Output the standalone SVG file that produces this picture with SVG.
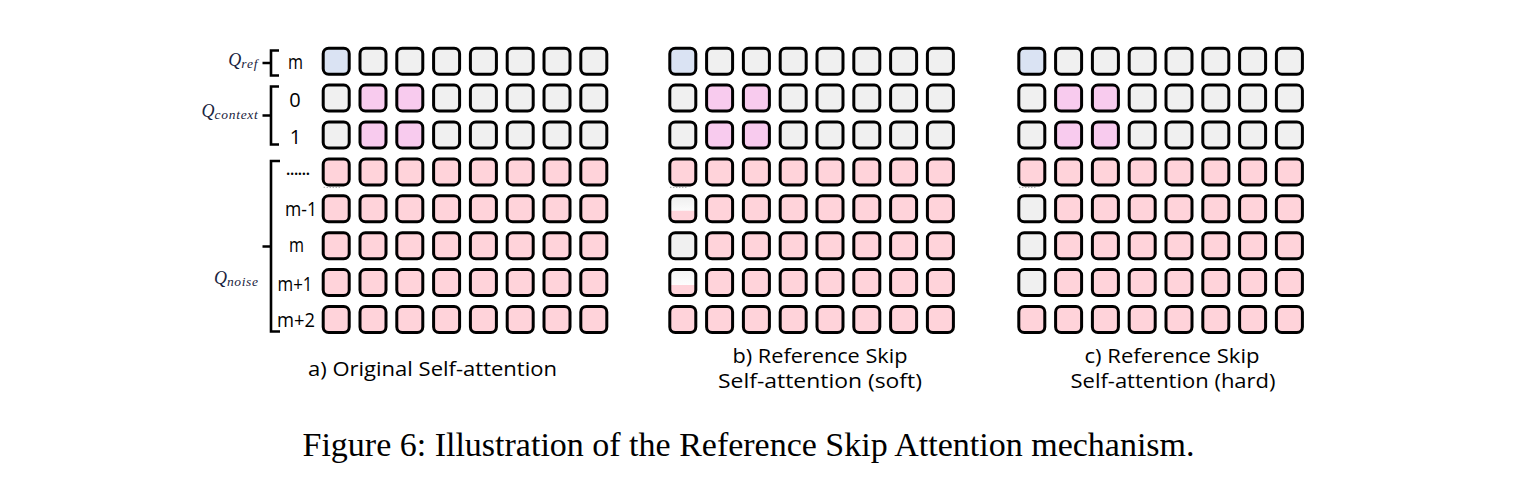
<svg xmlns="http://www.w3.org/2000/svg" xmlns:xlink="http://www.w3.org/1999/xlink" width="1526" height="494" viewBox="0 0 1526 494">
  <defs>
    <style>
      .bl{fill:#dae3f3}
      .gr{fill:#f0f0f0}
      .vi{fill:#f8cbee}
      .pk{fill:#ffd3da}
      .sa{fill:url(#softA)}
      .sb{fill:url(#softB)}
      .br{fill:none;stroke:#000;stroke-width:2.6;stroke-linecap:butt;stroke-linejoin:miter}
      .dots{fill:none;stroke:#777;stroke-width:1;stroke-dasharray:1 2}
      .lab{font-family:"Open Sans","Lato","DejaVu Sans",sans-serif;font-size:20px;font-weight:500;fill:#000}
      .cap{font-family:"Open Sans","Lato","DejaVu Sans",sans-serif;font-size:20px;font-weight:500;fill:#000}
      .q{font-family:"Liberation Serif","DejaVu Serif",serif;font-style:italic;fill:#1a2440}
      .fig{font-family:"Liberation Serif","Times New Roman",serif;font-size:34px;fill:#000}
    </style>
    <linearGradient id="softA" x1="0" y1="0" x2="0" y2="1">
      <stop offset="0" stop-color="#eeeeee"/>
      <stop offset="0.56" stop-color="#fbfbfb"/>
      <stop offset="0.58" stop-color="#ffd3da"/>
      <stop offset="1" stop-color="#ffd3da"/>
    </linearGradient>
    <linearGradient id="softB" x1="0" y1="0" x2="0" y2="1">
      <stop offset="0" stop-color="#f3f3f3"/>
      <stop offset="0.58" stop-color="#fdfdfd"/>
      <stop offset="0.6" stop-color="#ffd3da"/>
      <stop offset="1" stop-color="#ffd3da"/>
    </linearGradient>
    <rect id="cell" width="26" height="26" rx="5.5" ry="5.5" stroke="#000" stroke-width="3"/>
    <g id="shared">
      <!-- row m (ref) -->
      <use xlink:href="#cell" x="1.5" y="1.5" class="bl"/>
      <use xlink:href="#cell" x="38.3" y="1.5" class="gr"/>
      <use xlink:href="#cell" x="75.1" y="1.5" class="gr"/>
      <use xlink:href="#cell" x="111.9" y="1.5" class="gr"/>
      <use xlink:href="#cell" x="148.7" y="1.5" class="gr"/>
      <use xlink:href="#cell" x="185.5" y="1.5" class="gr"/>
      <use xlink:href="#cell" x="222.3" y="1.5" class="gr"/>
      <use xlink:href="#cell" x="259.1" y="1.5" class="gr"/>
      <!-- row 0 -->
      <use xlink:href="#cell" x="1.5" y="38.4" class="gr"/>
      <use xlink:href="#cell" x="38.3" y="38.4" class="vi"/>
      <use xlink:href="#cell" x="75.1" y="38.4" class="vi"/>
      <use xlink:href="#cell" x="111.9" y="38.4" class="gr"/>
      <use xlink:href="#cell" x="148.7" y="38.4" class="gr"/>
      <use xlink:href="#cell" x="185.5" y="38.4" class="gr"/>
      <use xlink:href="#cell" x="222.3" y="38.4" class="gr"/>
      <use xlink:href="#cell" x="259.1" y="38.4" class="gr"/>
      <!-- row 1 -->
      <use xlink:href="#cell" x="1.5" y="75.3" class="gr"/>
      <use xlink:href="#cell" x="38.3" y="75.3" class="vi"/>
      <use xlink:href="#cell" x="75.1" y="75.3" class="vi"/>
      <use xlink:href="#cell" x="111.9" y="75.3" class="gr"/>
      <use xlink:href="#cell" x="148.7" y="75.3" class="gr"/>
      <use xlink:href="#cell" x="185.5" y="75.3" class="gr"/>
      <use xlink:href="#cell" x="222.3" y="75.3" class="gr"/>
      <use xlink:href="#cell" x="259.1" y="75.3" class="gr"/>
      <!-- row ...... -->
      <use xlink:href="#cell" x="1.5" y="112.2" class="pk"/>
      <use xlink:href="#cell" x="38.3" y="112.2" class="pk"/>
      <use xlink:href="#cell" x="75.1" y="112.2" class="pk"/>
      <use xlink:href="#cell" x="111.9" y="112.2" class="pk"/>
      <use xlink:href="#cell" x="148.7" y="112.2" class="pk"/>
      <use xlink:href="#cell" x="185.5" y="112.2" class="pk"/>
      <use xlink:href="#cell" x="222.3" y="112.2" class="pk"/>
      <use xlink:href="#cell" x="259.1" y="112.2" class="pk"/>
      <line x1="2" y1="140.6" x2="19" y2="140.6" class="dots"/>
      <!-- row m-1 (cols 1-7) -->
      <use xlink:href="#cell" x="38.3" y="149.1" class="pk"/>
      <use xlink:href="#cell" x="75.1" y="149.1" class="pk"/>
      <use xlink:href="#cell" x="111.9" y="149.1" class="pk"/>
      <use xlink:href="#cell" x="148.7" y="149.1" class="pk"/>
      <use xlink:href="#cell" x="185.5" y="149.1" class="pk"/>
      <use xlink:href="#cell" x="222.3" y="149.1" class="pk"/>
      <use xlink:href="#cell" x="259.1" y="149.1" class="pk"/>
      <!-- row m (cols 1-7) -->
      <use xlink:href="#cell" x="38.3" y="186.0" class="pk"/>
      <use xlink:href="#cell" x="75.1" y="186.0" class="pk"/>
      <use xlink:href="#cell" x="111.9" y="186.0" class="pk"/>
      <use xlink:href="#cell" x="148.7" y="186.0" class="pk"/>
      <use xlink:href="#cell" x="185.5" y="186.0" class="pk"/>
      <use xlink:href="#cell" x="222.3" y="186.0" class="pk"/>
      <use xlink:href="#cell" x="259.1" y="186.0" class="pk"/>
      <!-- row m+1 (cols 1-7) -->
      <use xlink:href="#cell" x="38.3" y="222.9" class="pk"/>
      <use xlink:href="#cell" x="75.1" y="222.9" class="pk"/>
      <use xlink:href="#cell" x="111.9" y="222.9" class="pk"/>
      <use xlink:href="#cell" x="148.7" y="222.9" class="pk"/>
      <use xlink:href="#cell" x="185.5" y="222.9" class="pk"/>
      <use xlink:href="#cell" x="222.3" y="222.9" class="pk"/>
      <use xlink:href="#cell" x="259.1" y="222.9" class="pk"/>
      <!-- row m+2 -->
      <use xlink:href="#cell" x="1.5" y="259.8" class="pk"/>
      <use xlink:href="#cell" x="38.3" y="259.8" class="pk"/>
      <use xlink:href="#cell" x="75.1" y="259.8" class="pk"/>
      <use xlink:href="#cell" x="111.9" y="259.8" class="pk"/>
      <use xlink:href="#cell" x="148.7" y="259.8" class="pk"/>
      <use xlink:href="#cell" x="185.5" y="259.8" class="pk"/>
      <use xlink:href="#cell" x="222.3" y="259.8" class="pk"/>
      <use xlink:href="#cell" x="259.1" y="259.8" class="pk"/>
    </g>
  </defs>

  <rect x="0" y="0" width="1526" height="494" fill="#ffffff"/>

  <!-- Query labels -->
  <g id="query-labels">
    <text class="q" x="258.5" y="66" text-anchor="end" font-size="18">Q<tspan font-size="13.5" dy="2" letter-spacing="0.9">ref</tspan></text>
    <text class="q" x="258.5" y="117" text-anchor="end" font-size="18">Q<tspan font-size="13.5" dy="2" letter-spacing="0.7">context</tspan></text>
    <text class="q" x="258.5" y="284" text-anchor="end" font-size="18">Q<tspan font-size="13.5" dy="2" letter-spacing="0.6">noise</tspan></text>
  </g>

  <!-- Brackets -->
  <g id="connectors">
    <path class="br" d="M279,50.5 H271 V75.5 H279 M271,63 H262.5"/>
    <path class="br" d="M279,86.5 H271 V144.5 H279 M271,115.5 H262.5"/>
    <path class="br" d="M280,161 H271 V331.5 H280 M271,246.5 H262.5"/>
  </g>

  <!-- Row labels -->
  <g id="row-labels">
    <text class="lab" x="295.5" y="68.5" text-anchor="middle" textLength="15" lengthAdjust="spacingAndGlyphs">m</text>
    <text class="lab" x="295" y="106.5" text-anchor="middle">0</text>
    <text class="lab" x="295.5" y="143.5" text-anchor="middle">1</text>
    <text class="lab" x="298" y="174.5" text-anchor="middle" font-size="16" textLength="25" lengthAdjust="spacing">......</text>
    <text class="lab" x="301" y="215.5" text-anchor="middle" textLength="32" lengthAdjust="spacingAndGlyphs">m-1</text>
    <text class="lab" x="296.5" y="252" text-anchor="middle" textLength="15" lengthAdjust="spacingAndGlyphs">m</text>
    <text class="lab" x="295" y="290.5" text-anchor="middle" textLength="35" lengthAdjust="spacingAndGlyphs">m+1</text>
    <text class="lab" x="296" y="327" text-anchor="middle" textLength="38" lengthAdjust="spacingAndGlyphs">m+2</text>
  </g>

  <!-- Grid a -->
  <g id="grid-a" transform="translate(321.7,46.7)">
    <use xlink:href="#shared"/>
    <use xlink:href="#cell" x="1.5" y="149.1" class="pk"/>
    <use xlink:href="#cell" x="1.5" y="186.0" class="pk"/>
    <use xlink:href="#cell" x="1.5" y="222.9" class="pk"/>
  </g>

  <!-- Grid b -->
  <g id="grid-b" transform="translate(668.3,46.7)">
    <use xlink:href="#shared"/>
    <use xlink:href="#cell" x="1.5" y="149.1" class="sa"/>
    <use xlink:href="#cell" x="1.5" y="186.0" class="gr"/>
    <use xlink:href="#cell" x="1.5" y="222.9" class="sb"/>
  </g>

  <!-- Grid c -->
  <g id="grid-c" transform="translate(1017.3,46.7)">
    <use xlink:href="#shared"/>
    <use xlink:href="#cell" x="1.5" y="149.1" class="gr"/>
    <use xlink:href="#cell" x="1.5" y="186.0" class="gr"/>
    <use xlink:href="#cell" x="1.5" y="222.9" class="gr"/>
  </g>

  <!-- Sub-captions -->
  <g id="captions">
    <text class="cap" x="432.5" y="376" text-anchor="middle" textLength="249" lengthAdjust="spacingAndGlyphs">a) Original Self-attention</text>
    <text class="cap" x="820" y="363" text-anchor="middle" textLength="175" lengthAdjust="spacingAndGlyphs">b) Reference Skip</text>
    <text class="cap" x="820" y="387.5" text-anchor="middle" textLength="204" lengthAdjust="spacingAndGlyphs">Self-attention (soft)</text>
    <text class="cap" x="1172" y="363" text-anchor="middle" textLength="175" lengthAdjust="spacingAndGlyphs">c) Reference Skip</text>
    <text class="cap" x="1173" y="387.5" text-anchor="middle" textLength="205" lengthAdjust="spacingAndGlyphs">Self-attention (hard)</text>
  </g>

  <text id="figure-caption" class="fig" x="302.5" y="456" textLength="892" lengthAdjust="spacingAndGlyphs">Figure 6: Illustration of the Reference Skip Attention mechanism.</text>
</svg>
